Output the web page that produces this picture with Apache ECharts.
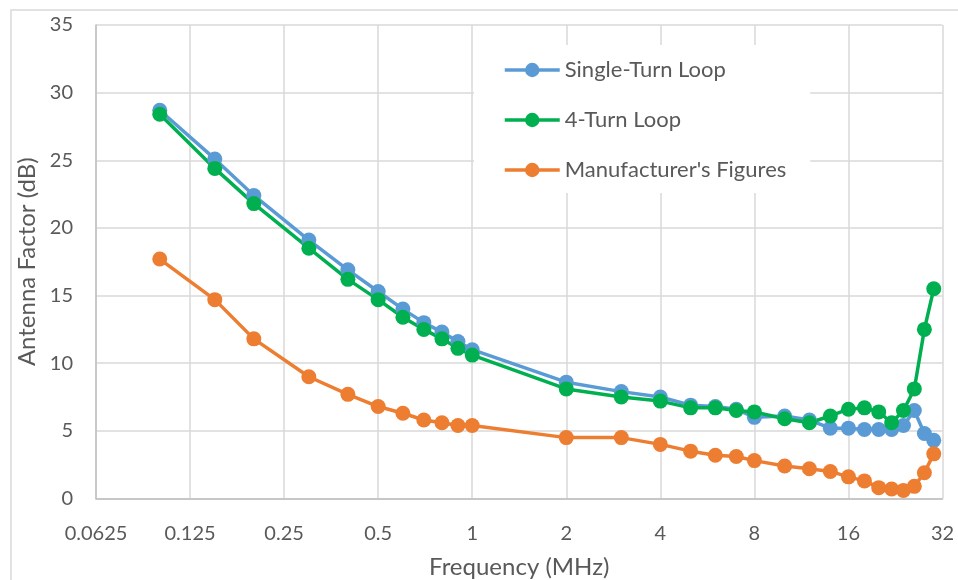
<!DOCTYPE html>
<html>
<head>
<meta charset="utf-8">
<script src="https://cdn.jsdelivr.net/npm/echarts@6/dist/echarts.min.js"></script>
<style>
    html, body { margin: 0; padding: 0; background: #fff; }
    #main { width: 958px; height: 580px; }
</style>
</head>
<body>
<div id="main"></div>
<script>
    // frequency points (MHz)
    var freq = [0.1, 0.15, 0.2, 0.3, 0.4, 0.5, 0.6, 0.7, 0.8, 0.9, 1,
        2, 3, 4, 5, 6, 7, 8, 10, 12, 14, 16, 18, 20, 22, 24, 26, 28, 30];
    // antenna factor (dB)
    var singleTurn = [28.7, 25.1, 22.4, 19.1, 16.9, 15.3, 14.0, 13.0, 12.3, 11.6, 11.0,
        8.6, 7.9, 7.5, 6.9, 6.8, 6.6, 6.0, 6.1, 5.8, 5.2, 5.2, 5.1, 5.1, 5.1, 5.4, 6.5, 4.8, 4.3];
    var fourTurn = [28.4, 24.4, 21.8, 18.5, 16.2, 14.7, 13.4, 12.5, 11.8, 11.1, 10.6,
        8.1, 7.5, 7.2, 6.7, 6.7, 6.5, 6.4, 5.9, 5.6, 6.1, 6.6, 6.7, 6.4, 5.6, 6.5, 8.1, 12.5, 15.5];
    var manufacturer = [17.7, 14.7, 11.8, 9.0, 7.7, 6.8, 6.3, 5.8, 5.6, 5.4, 5.4,
        4.5, 4.5, 4.0, 3.5, 3.2, 3.1, 2.8, 2.4, 2.2, 2.0, 1.6, 1.3, 0.8, 0.7, 0.6, 0.9, 1.9, 3.3];
    var seriesNames = ['Single-Turn Loop', '4-Turn Loop', "Manufacturer's Figures"];

    var font = 'Lato';
    var textColor = '#595959';

    function pairs(vals) {
        return freq.map(function (f, i) { return [f, vals[i]]; });
    }

    function makeSeries(name, vals, color) {
        return {
            name: name,
            type: 'line',
            data: pairs(vals),
            symbol: 'circle',
            symbolSize: 15,
            showSymbol: true,
            lineStyle: {width: 3.5, color: color},
            itemStyle: {color: color},
            emphasis: {disabled: true},
            animation: false
        };
    }

    var myChart = echarts.init(document.getElementById('main'));
    myChart.setOption({
        animation: false,
        backgroundColor: '#fff',
        textStyle: {fontFamily: font},
        graphic: [{
            type: 'rect',
            shape: {x: 11, y: 10, width: 1000, height: 1000},
            style: {fill: null, stroke: '#d9d9d9', lineWidth: 1.5},
            silent: true
        }],
        grid: {left: 96, right: 15.5, top: 25, bottom: 81.5, outerBoundsMode: 'none'},
        legend: {
            data: seriesNames,
            orient: 'vertical',
            left: 474,
            top: 45,
            padding: [14, 24, 12, 29],
            itemWidth: 55,
            itemHeight: 18,
            itemGap: 28,
            backgroundColor: '#fff',
            lineStyle: {width: 3.5},
            textStyle: {fontFamily: font, fontSize: 22, lineHeight: 22, color: textColor}
        },
        xAxis: {
            type: 'log',
            logBase: 2,
            min: 0.0625,
            max: 32,
            name: 'Frequency (MHz)',
            nameLocation: 'middle',
            nameGap: 57,
            nameTextStyle: {fontFamily: font, fontSize: 24, color: textColor},
            axisLine: {lineStyle: {color: '#bfbfbf', width: 1.5}},
            axisTick: {show: false},
            axisLabel: {
                fontFamily: font, fontSize: 20, color: textColor, margin: 25,
                formatter: function (v) { return String(+v.toPrecision(6)); }
            },
            splitLine: {show: true, lineStyle: {color: '#d9d9d9', width: 1.5}}
        },
        yAxis: {
            type: 'value',
            min: 0,
            max: 35,
            interval: 5,
            name: 'Antenna Factor (dB)',
            nameLocation: 'middle',
            nameGap: 49,
            nameTextStyle: {fontFamily: font, fontSize: 24, color: textColor},
            axisLine: {show: true, lineStyle: {color: '#bfbfbf', width: 1.5}},
            axisTick: {show: false},
            axisLabel: {fontFamily: font, fontSize: 20, color: textColor, margin: 23},
            splitLine: {show: true, lineStyle: {color: '#d9d9d9', width: 1.5}}
        },
        series: [
            makeSeries(seriesNames[0], singleTurn, '#5b9bd5'),
            makeSeries(seriesNames[1], fourTurn, '#00b050'),
            makeSeries(seriesNames[2], manufacturer, '#ed7d31')
        ]
    });
</script>
</body>
</html>
